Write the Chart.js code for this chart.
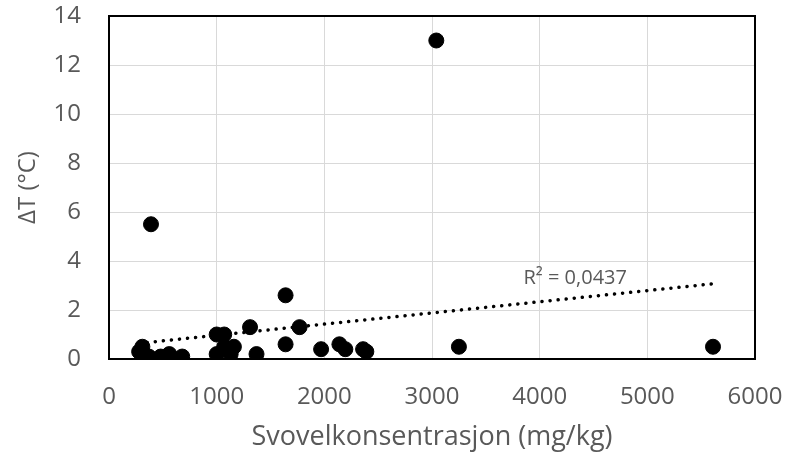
<!DOCTYPE html>
<html lang="no">
<head>
<meta charset="UTF-8">
<title>Svovelkonsentrasjon</title>
<script src="https://cdn.jsdelivr.net/npm/chart.js@4"></script>
<style>
  html, body { margin: 0; padding: 0; background: #fff; }
  #wrap { width: 785px; height: 461px; }
</style>
</head>
<body>
<div id="wrap"><canvas id="graf"></canvas></div>
<script>
// Svovelkonsentrasjon (mg/kg) mot ΔT (°C), lest av bildet
const svovel = [280, 310, 370, 390, 480, 560, 680, 1000, 1070, 1000, 1070, 1130, 1160,
                1310, 1370, 1640, 1640, 1770, 1970, 2140, 2195, 2360, 2390, 3040, 3250, 5610];
const deltaT = [0.3, 0.5, 0.1, 5.5, 0.1, 0.2, 0.1, 1.0, 1.0, 0.2, 0.5, 0.2, 0.5,
                1.3, 0.2, 2.6, 0.6, 1.3, 0.4, 0.6, 0.4, 0.4, 0.3, 13.0, 0.5, 0.5];

// trendlinje (lineær), endepunkter lest av bildet
const trendX = [280, 5610];
const trendY = [0.64, 3.07];
const r2Tekst = "R² = 0,0437";
const r2Pos = [4330, 3.3];

const xTicks = [0, 1000, 2000, 3000, 4000, 5000, 6000];
const yTicks = [0, 2, 4, 6, 8, 10, 12, 14];

const font = "'Open Sans', 'Liberation Sans', sans-serif";
const gra = "#595959";

const punkter = svovel.map((x, i) => ({ x: x, y: deltaT[i] }));
const trend = trendX.map((x, i) => ({ x: x, y: trendY[i] }));

// ramme rundt plotområdet + R²-tekst
const rammePlugin = {
    id: "ramme",
    afterDraw(chart) {
        const a = chart.chartArea;
        const ctx = chart.ctx;
        ctx.save();
        ctx.strokeStyle = "#000";
        ctx.lineWidth = 2;
        ctx.strokeRect(a.left, a.top, a.right - a.left, a.bottom - a.top);
        ctx.fillStyle = gra;
        ctx.font = "20px " + font;
        ctx.textAlign = "center";
        ctx.textBaseline = "middle";
        ctx.fillText(r2Tekst, chart.scales.x.getPixelForValue(r2Pos[0]), chart.scales.y.getPixelForValue(r2Pos[1]));
        ctx.restore();
    }
};

new Chart(document.getElementById("graf"), {
    type: "scatter",
    data: {
        datasets: [
            {
                type: "line",
                data: trend,
                borderColor: "#000",
                borderWidth: 3.5,
                borderDash: [0.1, 8],
                borderCapStyle: "round",
                pointRadius: 0,
                fill: false,
                order: 2
            },
            {
                data: punkter,
                backgroundColor: "#000",
                borderColor: "#000",
                pointRadius: 7.5,
                pointHoverRadius: 7.5,
                order: 1
            }
        ]
    },
    options: {
        responsive: true,
        maintainAspectRatio: false,
        animation: false,
        events: [],
        layout: { padding: { left: 0, right: 30, top: 16, bottom: 0 } },
        plugins: { legend: { display: false }, tooltip: { enabled: false } },
        scales: {
            x: {
                type: "linear",
                min: 0, max: 6000,
                afterBuildTicks: s => { s.ticks = xTicks.map(v => ({ value: v })); },
                afterFit: s => { s.height = 102; s.paddingLeft = 0; s.paddingRight = 0; },
                grid: { color: "#d9d9d9", lineWidth: 1, drawTicks: false },
                border: { display: false },
                ticks: {
                    color: gra, font: { family: font, size: 24 }, padding: 24, maxRotation: 0,
                    callback: v => String(v)
                },
                title: {
                    display: true,
                    text: "Svovelkonsentrasjon (mg/kg)",
                    color: gra,
                    font: { family: font, size: 27 },
                    padding: { top: 0, bottom: 7 }
                }
            },
            y: {
                type: "linear",
                min: 0, max: 14,
                afterBuildTicks: s => { s.ticks = yTicks.map(v => ({ value: v })); },
                afterFit: s => { s.width = 109; s.paddingTop = 0; s.paddingBottom = 0; },
                grid: { color: "#d9d9d9", lineWidth: 1, drawTicks: false },
                border: { display: false },
                ticks: { color: gra, font: { family: font, size: 24 }, padding: 28, callback: v => String(v) },
                title: {
                    display: true,
                    text: "ΔT (°C)",
                    color: gra,
                    font: { family: font, size: 24 },
                    padding: { top: 14, bottom: 0 }
                }
            }
        }
    },
    plugins: [rammePlugin]
});
</script>
</body>
</html>
